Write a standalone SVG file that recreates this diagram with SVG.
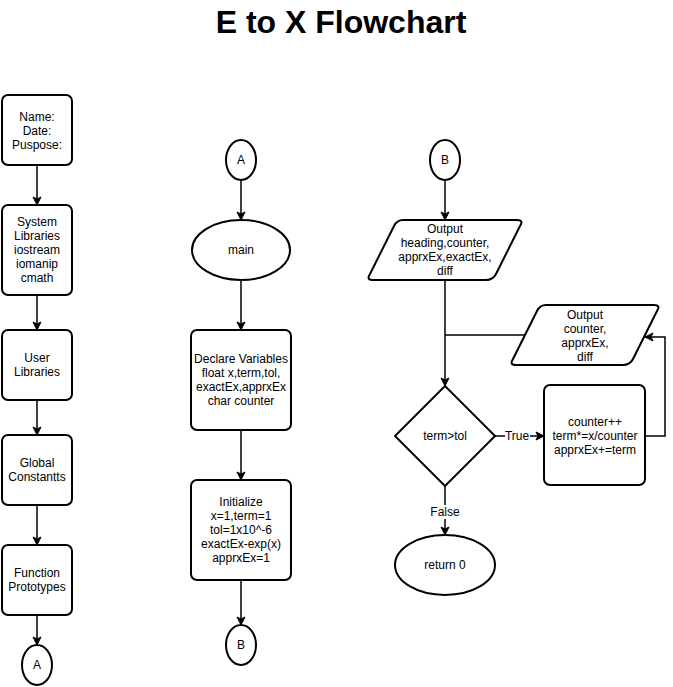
<svg xmlns="http://www.w3.org/2000/svg" width="673" height="687" viewBox="0 0 673 687">
<style>
.s{fill:#fff;stroke:#000;stroke-width:2;stroke-linejoin:round}
.c{fill:none;stroke:#000;stroke-width:1.5}
text{font-family:"Liberation Sans",Arial,sans-serif;font-size:12px;fill:#000;text-anchor:middle}
.t{font-size:32px;font-weight:bold}
</style>
<defs>
<marker id="ah" markerWidth="10" markerHeight="10" refX="9" refY="5" orient="auto" markerUnits="userSpaceOnUse">
<path d="M1,1 L9,5 L1,9 L3,5 z" fill="#000" stroke="#000" stroke-width="1"/>
</marker>
</defs>
<rect width="673" height="687" fill="#fff"/>
<text class="t" x="341" y="33">E to X Flowchart</text>

<g id="connectors">
<line class="c" x1="37" y1="165" x2="37" y2="205" marker-end="url(#ah)"/>
<line class="c" x1="37" y1="295" x2="37" y2="330" marker-end="url(#ah)"/>
<line class="c" x1="37" y1="400" x2="37" y2="435" marker-end="url(#ah)"/>
<line class="c" x1="37" y1="505" x2="37" y2="545" marker-end="url(#ah)"/>
<line class="c" x1="37" y1="615" x2="37" y2="645" marker-end="url(#ah)"/>
<line class="c" x1="241" y1="180" x2="241" y2="220" marker-end="url(#ah)"/>
<line class="c" x1="241" y1="280" x2="241" y2="330" marker-end="url(#ah)"/>
<line class="c" x1="241" y1="430" x2="241" y2="480" marker-end="url(#ah)"/>
<line class="c" x1="241" y1="580" x2="241" y2="625" marker-end="url(#ah)"/>
<line class="c" x1="445" y1="180" x2="445" y2="220" marker-end="url(#ah)"/>
<line class="c" x1="445" y1="280" x2="445" y2="386" marker-end="url(#ah)"/>
<polyline class="c" points="525,335 445,335"/>
<polyline class="c" points="645,436 665,436 665,337 645,337" marker-end="url(#ah)"/>
<line class="c" x1="495" y1="436" x2="544" y2="436" marker-end="url(#ah)"/>
<line class="c" x1="445" y1="486" x2="445" y2="535" marker-end="url(#ah)"/>
<rect x="505" y="429" width="25" height="14" fill="#fff"/>
<text x="517" y="440" font-size="11">True</text>
<rect x="429" y="505" width="32" height="14" fill="#fff"/>
<text x="445" y="516" font-size="11">False</text>
</g>

<g id="n_header">
<rect class="s" x="2" y="95" width="70" height="70" rx="6"/>
<text x="37" y="121">Name:</text>
<text x="37" y="135">Date:</text>
<text x="37" y="149">Puspose:</text>
</g>
<g id="n_syslib">
<rect class="s" x="2" y="205" width="70" height="90" rx="6"/>
<text x="37" y="226">System</text>
<text x="37" y="240">Libraries</text>
<text x="37" y="254">iostream</text>
<text x="37" y="268">iomanip</text>
<text x="37" y="282">cmath</text>
</g>
<g id="n_userlib">
<rect class="s" x="2" y="330" width="70" height="70" rx="6"/>
<text x="37" y="362">User</text>
<text x="37" y="376">Libraries</text>
</g>
<g id="n_global">
<rect class="s" x="2" y="435" width="70" height="70" rx="6"/>
<text x="37" y="467">Global</text>
<text x="37" y="481">Constantts</text>
</g>
<g id="n_proto">
<rect class="s" x="2" y="545" width="70" height="70" rx="6"/>
<text x="37" y="577">Function</text>
<text x="37" y="591">Prototypes</text>
</g>
<g id="n_A1">
<ellipse class="s" cx="37" cy="665" rx="15" ry="20"/>
<text x="37" y="669">A</text>
</g>

<g id="n_A2">
<ellipse class="s" cx="241" cy="160" rx="15" ry="20"/>
<text x="241" y="164">A</text>
</g>
<g id="n_main">
<ellipse class="s" cx="241" cy="250" rx="49" ry="30"/>
<text x="241" y="254">main</text>
</g>
<g id="n_declare">
<rect class="s" x="191" y="330" width="100" height="100" rx="6"/>
<text x="241" y="363">Declare Variables</text>
<text x="241" y="377">float x,term,tol,</text>
<text x="241" y="391">exactEx,apprxEx</text>
<text x="241" y="405">char counter</text>
</g>
<g id="n_init">
<rect class="s" x="191" y="480" width="100" height="100" rx="6"/>
<text x="241" y="506">Initialize</text>
<text x="241" y="520">x=1,term=1</text>
<text x="241" y="534">tol=1x10^-6</text>
<text x="241" y="548">exactEx-exp(x)</text>
<text x="241" y="562">apprxEx=1</text>
</g>
<g id="n_B1">
<ellipse class="s" cx="241" cy="645" rx="15" ry="20"/>
<text x="241" y="649">B</text>
</g>

<g id="n_B2">
<ellipse class="s" cx="445" cy="160" rx="15" ry="20"/>
<text x="445" y="164">B</text>
</g>
<g id="n_out1">
<path class="s" d="M403,220 L517,220 Q524,220 520,226 L496,274 Q493,280 486,280 L373,280 Q366,280 370,274 L394,226 Q397,220 403,220 Z"/>
<text x="445" y="233">Output</text>
<text x="445" y="247">heading,counter,</text>
<text x="445" y="261">apprxEx,exactEx,</text>
<text x="445" y="275">diff</text>
</g>
<g id="n_out2">
<path class="s" d="M546,305 L654,305 Q661,305 657,311 L633,359 Q630,365 623,365 L516,365 Q509,365 513,359 L537,311 Q540,305 546,305 Z"/>
<text x="585" y="319">Output</text>
<text x="585" y="333">counter,</text>
<text x="585" y="347">apprxEx,</text>
<text x="585" y="361">diff</text>
</g>
<g id="n_cond">
<path class="s" d="M445,386 L495,436 L445,486 L395,436 Z"/>
<text x="445" y="440">term&gt;tol</text>
</g>
<g id="n_update">
<rect class="s" x="544" y="385" width="101" height="100" rx="6"/>
<text x="595" y="426">counter++</text>
<text x="595" y="440">term*=x/counter</text>
<text x="595" y="454">apprxEx+=term</text>
</g>
<g id="n_return">
<ellipse class="s" cx="445" cy="565" rx="50" ry="30"/>
<text x="445" y="569">return 0</text>
</g>
</svg>
